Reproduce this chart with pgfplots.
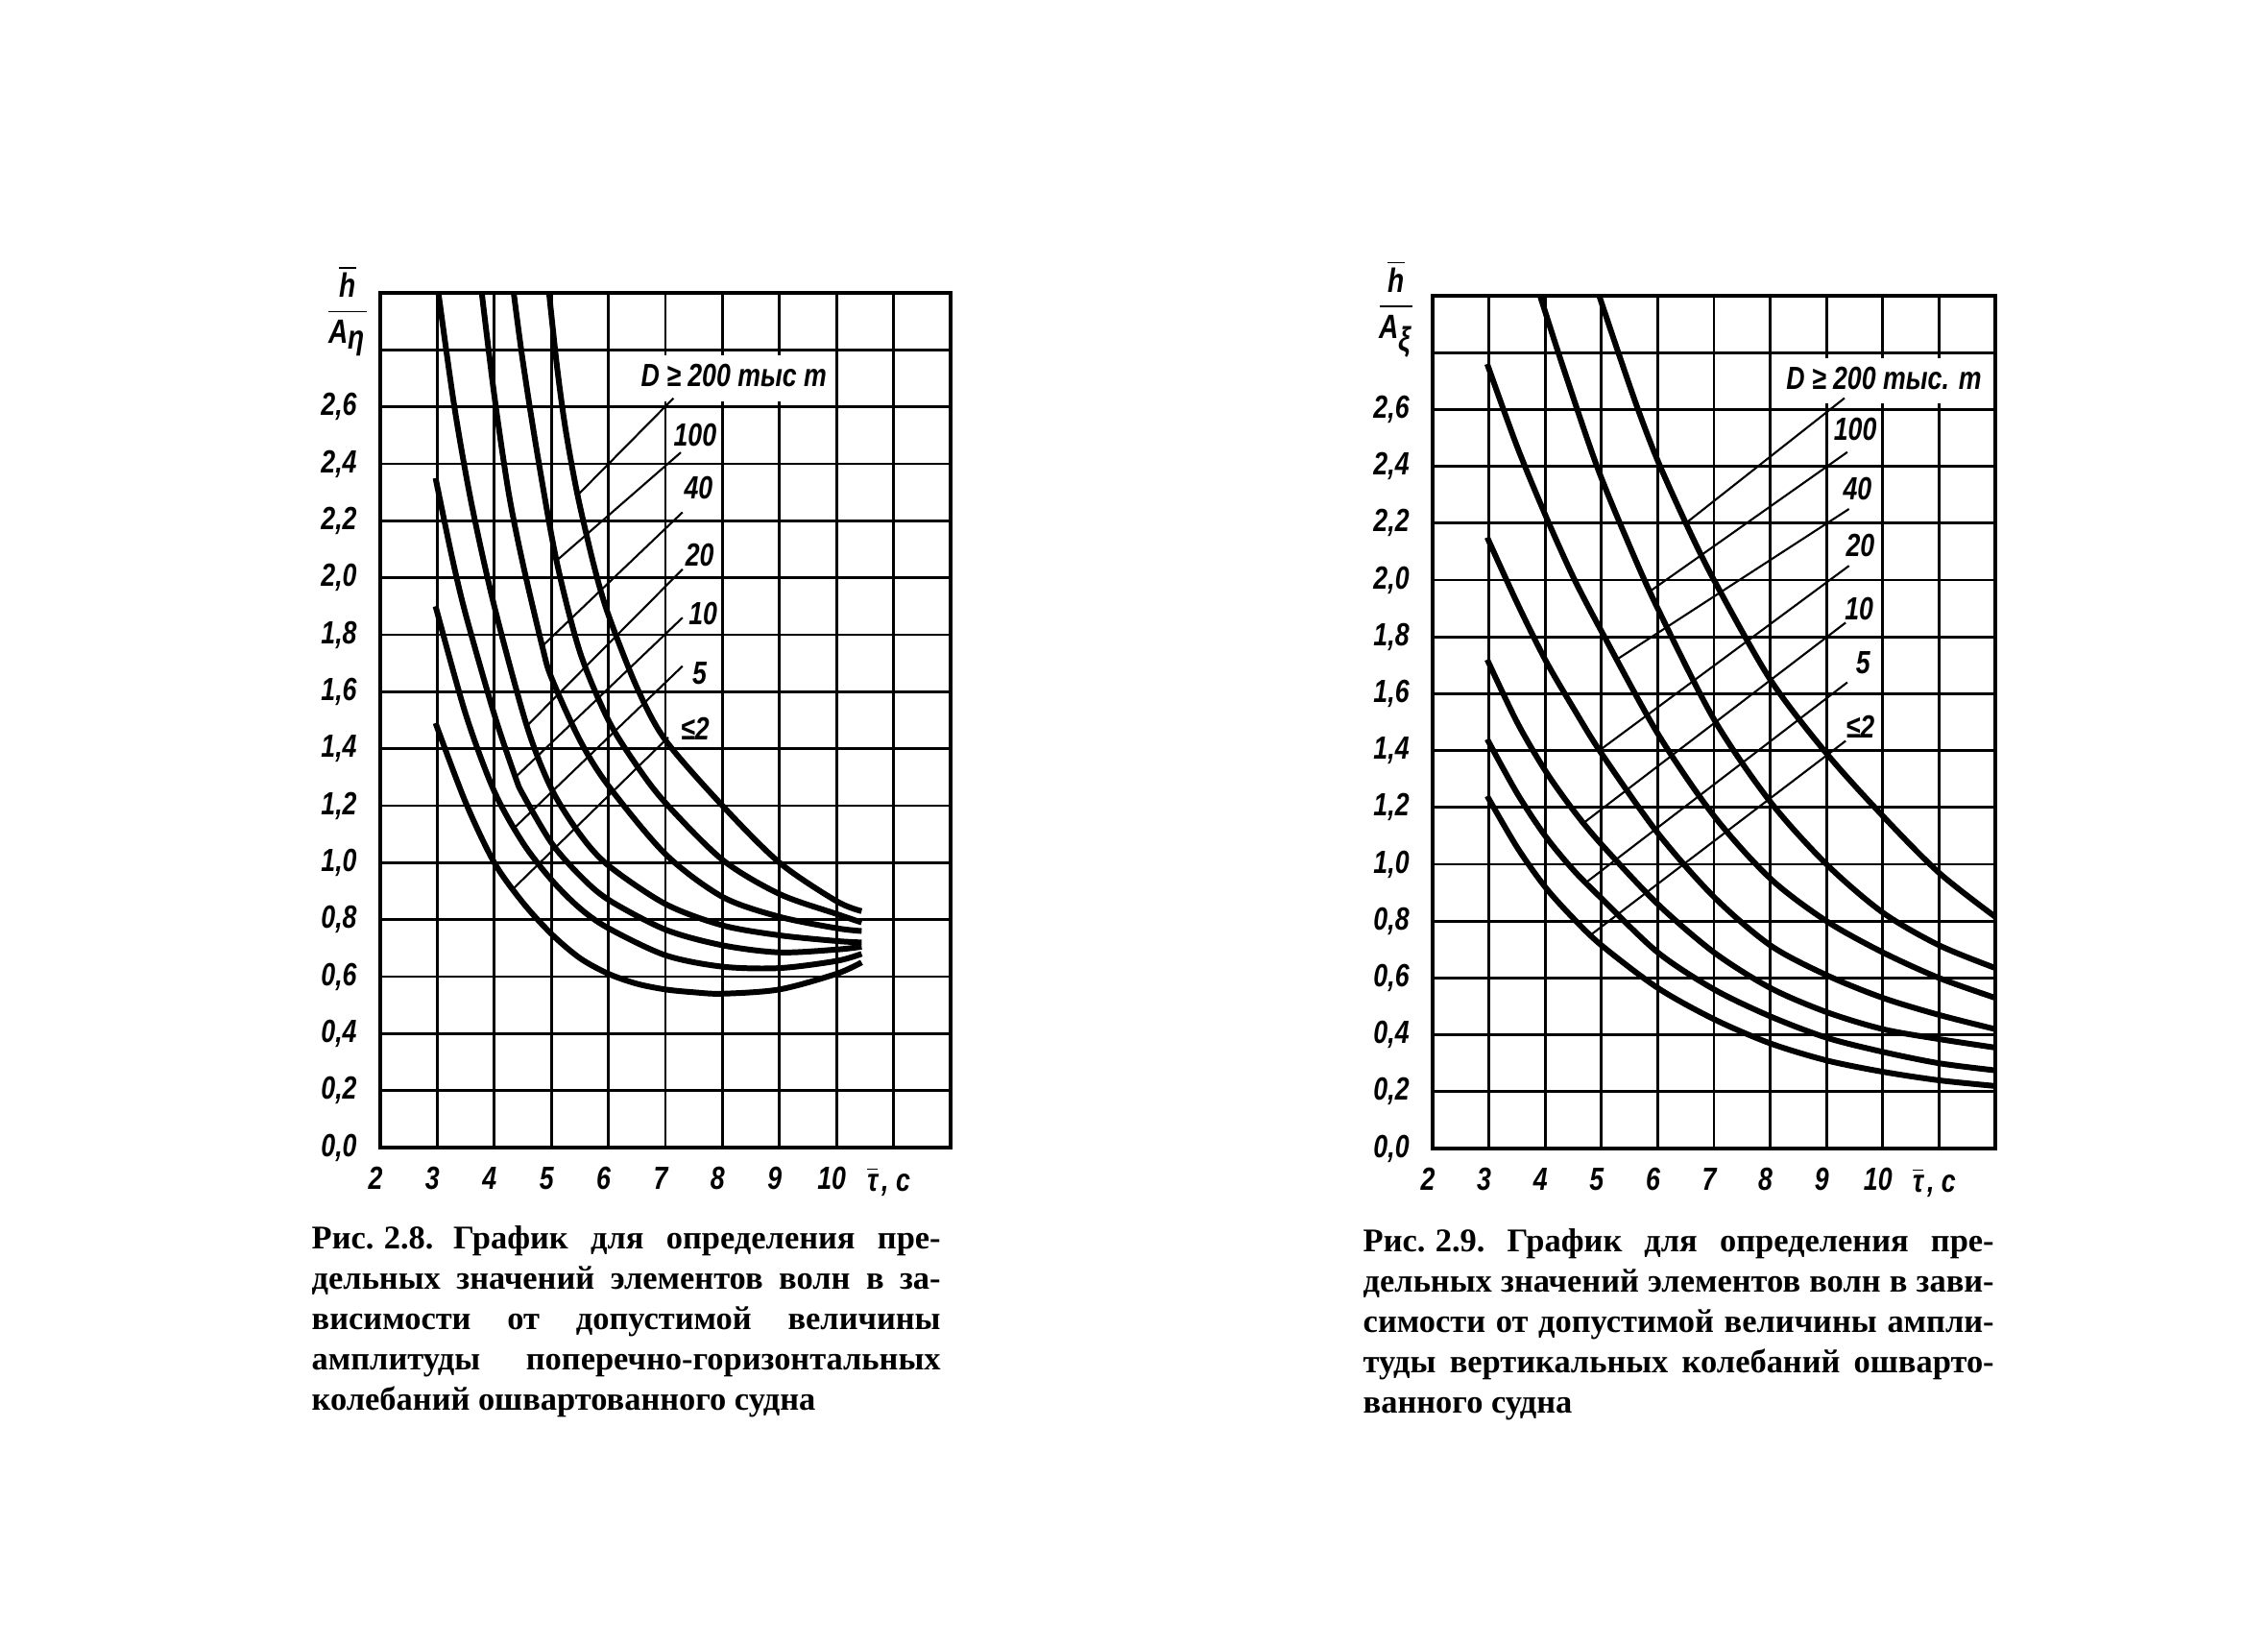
\documentclass[border=0pt]{standalone}
\usepackage{fontspec}
\setmainfont{Liberation Serif}
\newfontfamily\gost{Liberation Sans}[FakeStretch=0.8]
\usepackage{pgfplots}
\pgfplotsset{compat=1.18}

\newcommand\gi{\gost\bfseries\itshape}
\newcommand\tickfont{\gi\fontsize{9.5}{10}\selectfont}
\newcommand\labfont{\gi\fontsize{9.5}{10}\selectfont}
\newcommand\fracfont{\gi\fontsize{10}{10}\selectfont}
\newcommand\capfont{\frenchspacing\bfseries\fontsize{9.8}{12}\selectfont}

\pgfplotsset{
  chart/.style={
    scale only axis,
    xmin=2, xmax=12, ymin=0, ymax=3,
    xtick={2,3,4,5,6,7,8,9,10,11,12},
    xticklabels={2,3,4,5,6,7,8,9,10,{$\overline{\hbox{\tickfont τ}}$\kern0.12em, с},{}},
    ytick={0,0.2,0.4,0.6,0.8,1,1.2,1.4,1.6,1.8,2,2.2,2.4,2.6,2.8,3},
    yticklabels={{0,0},{0,2},{0,4},{0,6},{0,8},{1,0},{1,2},{1,4},{1,6},{1,8},{2,0},{2,2},{2,4},{2,6},{},{}},
    grid=major,
    major grid style={black, line width=0.8pt},
    major tick length=0pt,
    axis line style={black, line width=1.3pt},
    ticklabel style={font=\tickfont},
    yticklabel style={anchor=east, xshift=-0.12cm},
    xticklabel style={anchor=north, yshift=-0.08cm, xshift=-0.05cm},
  },
  curve/.style={black, line width=1.7pt, smooth, no markers},
  leader/.style={black, line width=0.6pt, no markers},
}

\begin{document}
\begin{tikzpicture}
\path[use as bounding box] (0,0) rectangle (23.62,-17.13);

% ---------------- Left chart (Fig. 2.8) ----------------
\begin{axis}[chart, at={(3.96cm,-11.95cm)}, anchor=south west, width=5.94cm, height=8.90cm]
\fill[white] (axis cs:6.4,2.62) rectangle (axis cs:9.98,2.78);
% <=2
\addplot[curve] coordinates {(2.97,1.49) (3.5,1.21) (4,1.0) (4.5,0.86) (5,0.75) (5.5,0.665) (6,0.61) (6.5,0.575) (7,0.555) (7.5,0.545) (8,0.54) (9,0.555) (10,0.61) (10.44,0.65)};
% 5
\addplot[curve] coordinates {(2.97,1.90) (3.5,1.52) (4,1.25) (4.5,1.07) (5,0.94) (5.5,0.84) (6,0.77) (7,0.675) (8,0.635) (9,0.63) (10,0.655) (10.44,0.68)};
% 10
\addplot[curve] coordinates {(2.97,2.35) (3.25,2.08) (3.5,1.87) (4,1.52) (4.37,1.30) (4.5,1.24) (5,1.07) (5.5,0.955) (6,0.87) (7,0.765) (8,0.71) (9,0.685) (10,0.695) (10.44,0.705)};
% 20
\addplot[curve] coordinates {(3.02,3.0) (3.3,2.6) (3.6,2.26) (4,1.9) (4.57,1.48) (5,1.26) (5.5,1.10) (6,0.99) (7,0.855) (8,0.78) (9,0.745) (10,0.725) (10.44,0.72)};
% 40
\addplot[curve] coordinates {(3.78,3.0) (4,2.64) (4.25,2.30) (4.5,2.05) (4.84,1.76) (5,1.65) (5.5,1.43) (6,1.27) (7,1.03) (8,0.88) (9,0.81) (10,0.77) (10.44,0.76)};
% 100
\addplot[curve] coordinates {(4.34,3.0) (4.5,2.76) (4.75,2.44) (5.09,2.06) (5.5,1.74) (6,1.50) (6.5,1.34) (7,1.21) (8,1.01) (9,0.89) (10,0.82) (10.44,0.79)};
% >=200
\addplot[curve] coordinates {(4.96,3.0) (5.1,2.74) (5.25,2.52) (5.46,2.29) (5.75,2.04) (6,1.87) (6.5,1.615) (7,1.43) (8,1.2) (9,1.0) (10,0.865) (10.44,0.83)};
% leaders
\addplot[leader] coordinates {(5.46,2.29) (7.14,2.63)};
\addplot[leader] coordinates {(5.09,2.06) (7.27,2.44)};
\addplot[leader] coordinates {(4.84,1.76) (7.3,2.23)};
\addplot[leader] coordinates {(4.57,1.48) (7.3,2.03)};
\addplot[leader] coordinates {(4.37,1.30) (7.3,1.86)};
\addplot[leader] coordinates {(4.34,1.12) (7.3,1.69)};
\addplot[leader] coordinates {(4.34,0.91) (7.05,1.44)};
\node[font=\labfont] at (axis cs:8.2,2.71) {D ≥ 200 тыс т};
\node[font=\labfont] at (axis cs:7.52,2.50) {100};
\node[font=\labfont] at (axis cs:7.58,2.315) {40};
\node[font=\labfont] at (axis cs:7.60,2.08) {20};
\node[font=\labfont] at (axis cs:7.66,1.874) {10};
\node[font=\labfont] at (axis cs:7.60,1.665) {5};
\node[font=\labfont] at (axis cs:7.52,1.47) {≤2};
\end{axis}

% ---------------- Right chart (Fig. 2.9) ----------------
\begin{axis}[chart, at={(14.92cm,-11.96cm)}, anchor=south west, width=5.86cm, height=8.88cm]
\fill[white] (axis cs:8.1,2.62) rectangle (axis cs:11.95,2.78);
% <=2
\addplot[curve] coordinates {(2.97,1.24) (3.5,1.06) (4,0.92) (4.5,0.81) (5,0.715) (6,0.565) (7,0.455) (8,0.37) (9,0.31) (10,0.27) (11,0.24) (12,0.22)};
% 5
\addplot[curve] coordinates {(2.97,1.44) (3.5,1.25) (4,1.10) (4.5,0.98) (5,0.88) (6,0.69) (7,0.56) (8,0.465) (9,0.39) (10,0.34) (11,0.30) (12,0.275)};
% 10
\addplot[curve] coordinates {(2.97,1.72) (3.5,1.50) (4,1.33) (4.5,1.19) (5,1.07) (6,0.86) (7,0.69) (8,0.565) (9,0.48) (10,0.42) (11,0.385) (12,0.355)};
% 20
\addplot[curve] coordinates {(2.97,2.15) (3.5,1.92) (4,1.72) (4.5,1.55) (5,1.39) (6,1.11) (7,0.885) (8,0.715) (9,0.61) (10,0.53) (11,0.47) (12,0.42)};
% 40
\addplot[curve] coordinates {(2.97,2.76) (3.5,2.47) (4,2.23) (4.5,2.01) (5,1.82) (6,1.46) (7,1.17) (8,0.95) (9,0.80) (10,0.69) (11,0.60) (12,0.53)};
% 100
\addplot[curve] coordinates {(3.91,3.0) (4.3,2.76) (4.92,2.40) (5.5,2.12) (6,1.90) (7,1.51) (8,1.22) (9,1.0) (10,0.83) (11,0.715) (12,0.635)};
% >=200
\addplot[curve] coordinates {(4.96,3.0) (5.3,2.8) (5.65,2.6) (6,2.42) (6.5,2.2) (7,2.0) (8,1.65) (9,1.39) (10,1.17) (11,0.97) (12,0.815)};
% leaders
\addplot[leader] coordinates {(6.5,2.20) (9.32,2.64)};
\addplot[leader] coordinates {(5.86,1.96) (9.37,2.45)};
\addplot[leader] coordinates {(5.27,1.72) (9.4,2.25)};
\addplot[leader] coordinates {(4.96,1.40) (9.4,2.05)};
\addplot[leader] coordinates {(4.68,1.145) (9.34,1.85)};
\addplot[leader] coordinates {(4.72,0.935) (9.37,1.64)};
\addplot[leader] coordinates {(4.8,0.75) (9.34,1.434)};
\node[font=\labfont] at (axis cs:10.02,2.71) {D ≥ 200 тыс. т};
\node[font=\labfont] at (axis cs:9.51,2.53) {100};
\node[font=\labfont] at (axis cs:9.55,2.32) {40};
\node[font=\labfont] at (axis cs:9.60,2.12) {20};
\node[font=\labfont] at (axis cs:9.58,1.90) {10};
\node[font=\labfont] at (axis cs:9.65,1.71) {5};
\node[font=\labfont] at (axis cs:9.60,1.485) {≤2};
\end{axis}

% y-axis labels (fractions)
\node[inner sep=0pt] at (3.62,-3.24) {$\displaystyle\frac{\overline{\hbox{\fracfont h}}}{\hbox{\fracfont A}_{\hbox{\fracfont η}}}$};
\node[inner sep=0pt] at (14.54,-3.22) {$\displaystyle\frac{\overline{\hbox{\fracfont h}}}{\hbox{\fracfont A}_{\hbox{\fracfont ξ}}}$};

% captions
\node[anchor=base west, inner sep=0pt] at (3.24,-13.00) {\parbox[t]{6.55cm}{\capfont
\makebox[\linewidth][s]{Рис.\kern0.3em2.8.\kern0.6em График для определения пре-}\\
\makebox[\linewidth][s]{дельных значений элементов волн в за-}\\
\makebox[\linewidth][s]{висимости от допустимой величины}\\
\makebox[\linewidth][s]{амплитуды поперечно-горизонтальных}\\
колебаний ошвартованного судна}};

\node[anchor=base west, inner sep=0pt] at (14.19,-13.03) {\parbox[t]{6.57cm}{\capfont
\makebox[\linewidth][s]{Рис.\kern0.3em2.9. График для определения пре-}\\
\makebox[\linewidth][s]{дельных значений элементов волн в зави-}\\
\makebox[\linewidth][s]{симости от допустимой величины ампли-}\\
\makebox[\linewidth][s]{туды вертикальных колебаний ошварто-}\\
ванного судна}};
\end{tikzpicture}
\end{document}
